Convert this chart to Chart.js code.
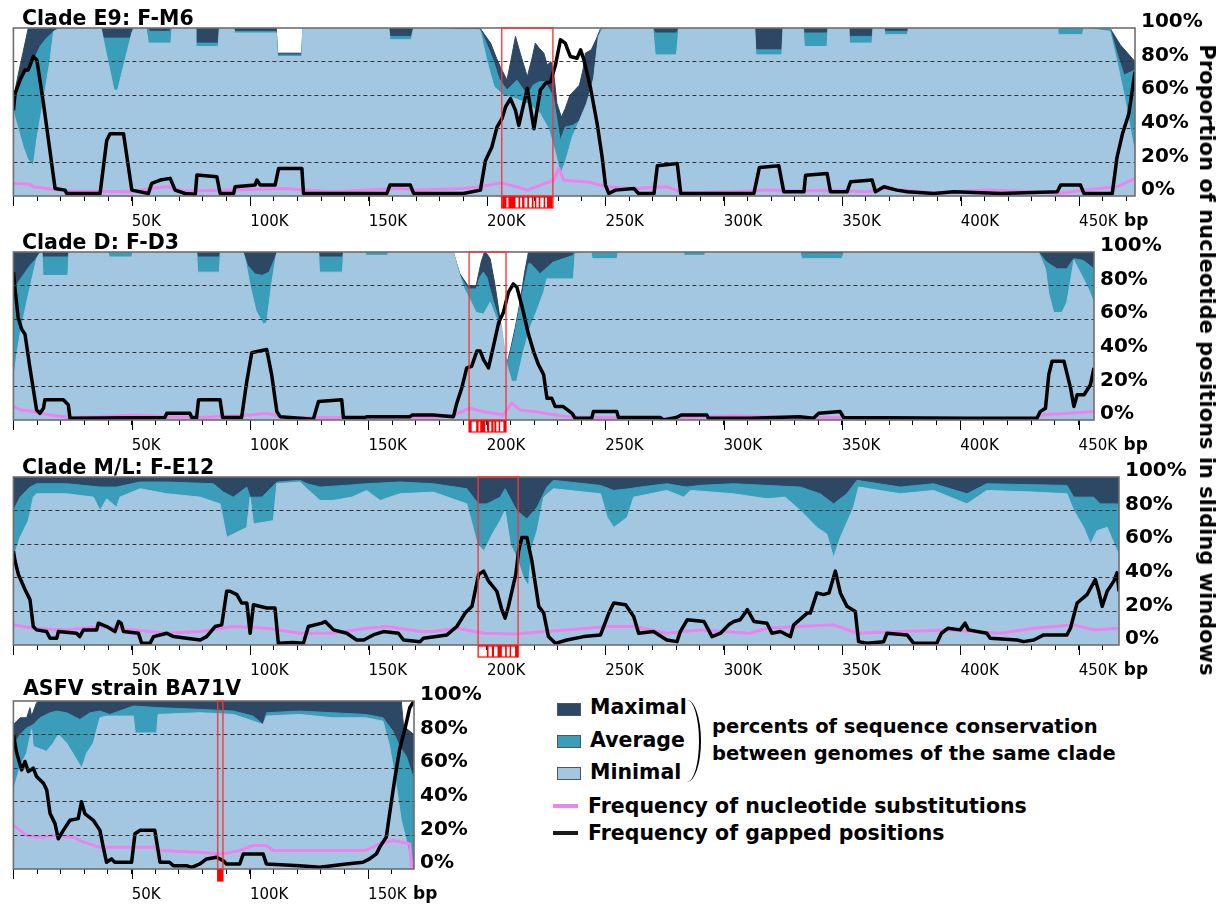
<!DOCTYPE html>
<html>
<head>
<meta charset="utf-8">
<script src="https://cdn.jsdelivr.net/npm/chart.js@4.4.1/dist/chart.umd.min.js"></script>
<style>
  body { margin: 0; width: 1220px; height: 905px; background: #fff; position: relative; overflow: hidden;
         font-family: "DejaVu Sans", sans-serif; font-weight: bold; color: #000; }
  canvas { position: absolute; left: 0; }
  .t { position: absolute; font-size: 20.5px; line-height: 20px; white-space: nowrap; z-index: 2; }
  .s { font-size: 19.5px; }
  .box { position: absolute; left: 557px; width: 22px; height: 11px; border: 1px solid #555; z-index: 2; }
  .ln { position: absolute; left: 553px; width: 25px; height: 4px; z-index: 2; }
  #paren { position: absolute; left: 687px; top: 700px; width: 12px; height: 82px; z-index: 2;
           border-right: 2.5px solid #000; border-radius: 0 100% 100% 0 / 0 50% 50% 0; }
  #ytitle { position: absolute; left: 1207px; top: 360px; font-size: 21px; white-space: nowrap; z-index: 2;
            transform: translate(-50%, -50%) rotate(90deg); }
</style>
</head>
<body>
<canvas id="p1" width="1220" height="232" style="top:0px"></canvas>
<canvas id="p2" width="1220" height="232" style="top:224px"></canvas>
<canvas id="p3" width="1220" height="232" style="top:449px"></canvas>
<canvas id="p4" width="500" height="232" style="top:673px"></canvas>

<div class="t" style="left:22px;top:8px">Clade E9: F-M6</div>
<div class="t" style="left:22px;top:232px">Clade D: F-D3</div>
<div class="t" style="left:22px;top:457px">Clade M/L: F-E12</div>
<div class="t" style="left:23px;top:678px">ASFV strain BA71V</div>

<div class="box" style="top:703px;background:#2c4864"></div>
<div class="box" style="top:735px;background:#3a9ebb"></div>
<div class="box" style="top:767px;background:#a3c7e1"></div>
<div class="t" style="left:590px;top:697px">Maximal</div>
<div class="t" style="left:590px;top:730px">Average</div>
<div class="t" style="left:590px;top:762px">Minimal</div>
<div id="paren"></div>
<div class="t s" style="left:712px;top:717px">percents of sequence conservation</div>
<div class="t s" style="left:712px;top:744px">between genomes of the same clade</div>
<div class="ln" style="top:804px;background:#ee82ee"></div>
<div class="ln" style="top:831px;background:#1a1a1a"></div>
<div class="t" style="left:588px;top:796px">Frequency of nucleotide substitutions</div>
<div class="t" style="left:588px;top:823px">Frequency of gapped positions</div>
<div id="ytitle">Proportion of nucleotide positions in sliding windows</div>

<script>
// positions in kbp, values in percent

// Clade E9: F-M6
const e9Len = 473.6;
const e9Max = [[0,58],[2,72],[4,85],[6.3,100],[111,100],[111.5,85],[121.8,85],[122.2,100],[197,100],[199,96],[201.5,91],[204,82],[205.6,77],[208.4,69],[210,80],[212,95],[214,85],[217,71],[219,82],[220.4,91],[222,88],[224,85],[225.4,78],[227,80],[228,75],[229.5,55],[231.4,47],[233,52],[235,60],[237,63],[239,66],[240.5,75],[241.5,85],[244,87],[246,93],[248,100],[463,100],[467.4,90],[473.6,80]];
const e9Avg = [[0,55],[2,65],[4,72],[6.5,76],[9,82],[11.2,89],[14,94],[17,98],[19,100],[37,100],[38,94],[49.5,94],[50.5,100],[57,100],[57.5,98],[66,98],[66.5,100],[76.8,100],[77,91],[86.5,91],[87,100],[93,100],[93.5,98],[111,98],[111.5,84],[121.8,84],[122.2,100],[158.5,100],[159,95],[168,95],[169,100],[197.5,98],[200,90],[202.8,80],[205,70],[208.4,63],[212.6,69],[217,60],[219.5,66],[222,68],[224.5,68],[228,59],[230.9,33],[233,41],[236,42],[239.5,45],[242,52],[244.3,59],[246.5,87],[248,100],[270,100],[271,97],[280,97],[281,100],[313,100],[313.5,87],[324.5,87],[325,100],[333.5,100],[334,97],[343.6,97],[344,100],[352.8,100],[353,95],[362.6,95],[363,100],[367.6,100],[368,98],[377.5,98],[378,100],[463,100],[466,85],[469,72],[473.6,75]];
const e9Min = [[0,50],[2,40],[4,30],[6,22],[8.4,18],[10,35],[12.7,57],[15.5,81],[17,98],[20,100],[37,100],[38,93],[42.5,63],[44,63],[50,97],[51,100],[56,100],[57,91],[66.5,91],[67,100],[76.8,100],[77,89],[86.5,89],[87,100],[93,100],[93.5,97],[111,97],[111.5,83],[121.8,83],[122.2,100],[158.5,100],[159,93],[168,93],[169,100],[197,99],[200,80],[203,65],[207,60],[212,58],[217,55],[222,50],[226,40],[229,25],[231,13],[233,20],[236,35],[239,45],[242,55],[245,70],[247,95],[249,100],[270,100],[271,84],[280,84],[281,100],[313,100],[313.5,84],[324.5,84],[325,100],[333.5,100],[334,89],[343.6,89],[344,100],[352.8,100],[353,91],[362.6,91],[363,100],[367.6,100],[368,96],[377.5,96],[378,100],[440.8,100],[441,96],[451.4,96],[452,100],[463,98],[466,80],[469,60],[471,45],[473.6,25]];
const e9Sub = [[0,7.4],[7,7],[8.5,5.5],[22.5,3],[50,2.5],[57.7,4.5],[64.8,5.5],[72,3],[93,3.5],[114,4.5],[135,2.5],[156,4],[163,4.5],[170.4,3.5],[190.1,4.5],[197.2,5.5],[205.6,7.8],[212.6,5.5],[217,3.5],[222.5,6.5],[228.2,9.4],[230.3,16.4],[232.4,9.4],[242.3,8.4],[250.7,5.5],[262,4.5],[276,5.5],[283,2],[304,2.5],[318,3.5],[332,3],[346.4,3.5],[360.5,2.5],[367.6,4.5],[388.6,2],[411,3.5],[431,2.5],[441,1.5],[452,3.5],[466,5.5],[473.6,10.5]];
const e9Gap = [[0,51],[0.7,61],[2.8,69],[4.9,75],[6.3,75],[8.4,83],[9.9,81],[12.7,55],[17.6,4.5],[21.8,3.5],[22.5,1.5],[36.6,1.5],[39.4,33],[40.8,37],[46.5,37],[50,3.5],[57,1.5],[58.4,7.5],[62,9.5],[66.2,10.5],[68.3,3.5],[72.5,1.5],[76.8,1],[77.5,12.5],[85.9,11.5],[87.3,1.5],[93,1.5],[93.6,5.5],[102,6.5],[102.8,9.5],[104.2,6.5],[110.5,6.5],[112,16.4],[121.8,16.4],[122.5,1.5],[157.7,1.5],[159,6.5],[167.6,6.5],[169,1.5],[190,1.5],[197.2,3.5],[199.3,21],[202,29],[204.2,41],[206.3,46],[207.8,53],[209.9,58],[212,51],[213.4,42],[217,64],[219.8,40],[222.5,63],[224.6,67],[226.8,68],[228.9,78],[231,93],[233,91],[235.2,83],[238,82],[239.5,87],[240.9,81],[243.6,65],[246.5,43],[248.6,23],[250,6.5],[251.4,1.5],[254.2,3.5],[262,4.5],[264,1.5],[270.5,1.5],[271.9,18],[280.3,19.4],[281.8,1.5],[312.7,1.5],[315,17],[323.2,18],[325.3,2.5],[333.8,2.5],[334.5,12.4],[343.6,13.4],[345,2.5],[352,2.5],[353.5,8.5],[362.6,9.5],[364,2.5],[367.6,5.5],[373,3.5],[377.5,2.5],[388.6,1.5],[397.2,2.5],[417,1.5],[440.8,2.5],[442.2,6.5],[450.6,6.5],[452,1.5],[464,1.5],[466,23],[468.3,37],[471,49],[473.6,74]];
const e9Hl = [206.2, 227.8];
const e9Genes = [[206.4,208.2],[209,212],[213.3,214],[214.8,215.8],[217,217.7],[218.9,219.6],[220.2,220.6],[221.8,222.5],[223.9,224.3],[225.3,227.6]];

// Clade D: F-D3
const d2Len = 456.5;
const d2Max = [[0,100],[185.8,100],[188.6,87],[192,80],[195.5,80],[197.6,94],[199,100],[200,99],[201.4,96],[203.5,80],[205.6,60],[207,45],[208.4,33],[210,42],[212,55],[214,70],[216,88],[217.6,100],[456.5,100]];
const d2Avg = [[0,78],[2,82],[4,86],[7,92],[9,95],[11,99],[12,100],[12.5,97],[23,97],[23.5,100],[65,100],[65.5,98],[74.5,98],[75,100],[77.4,100],[77.8,97],[87,97],[87.5,100],[97,100],[99,92],[102,87],[105,86],[108,88],[111,98],[111.5,100],[128.9,100],[129.3,97],[139,97],[139.5,100],[185.8,100],[188.6,86],[192,78],[195.5,78],[197,85],[198.5,88],[200,85],[202.5,72],[205,60],[207,45],[208.4,33],[210,40],[212,53],[214,68],[216,82],[217.6,93],[218.5,93],[222.5,87],[228,94],[236.5,98],[237,100],[332.4,100],[333,99],[350,99],[351,100],[433,100],[436.5,94],[440.8,90],[445,90],[447.9,96],[452,95],[456.5,90]];
const d2Min = [[0,23],[1.5,40],[2.8,51],[5.6,70],[8,85],[9.8,96],[11,99],[12,100],[12.5,86],[23,86],[23.5,100],[40,100],[40.5,97],[50,97],[50.5,100],[77.4,100],[77.8,88],[87,88],[87.5,100],[97,100],[98,95],[100,80],[102.5,65],[105.6,57],[107,58],[109,80],[111,98],[111.5,100],[128.9,100],[129.3,88],[139,88],[139.5,100],[148.6,100],[149,98],[158,98],[158.5,100],[185.8,100],[188.6,86],[190.5,78],[192,74],[195.5,64],[198.6,63],[201.4,70],[204.2,60],[206.3,55],[208.4,33],[210.5,23],[212.6,23],[215.5,41],[218.3,55],[221.1,65],[224,76],[225.4,84],[236.6,84],[237.3,99],[244,100],[244.5,96],[255,96],[255.5,100],[283,100],[283.5,98],[292,98],[292.5,100],[332.4,100],[333,96],[350,96],[351,100],[433,100],[436,90],[437.4,75],[439.5,64],[443,64],[445,70],[446.5,82],[448,95],[450.6,88],[453.5,80],[456.5,70]];
const d2Sub = [[0,8],[3,6],[8.4,5],[15.5,3],[23.9,1.5],[36.6,2],[50.7,3],[64.8,2],[78.8,1.5],[100,3],[107,4],[114,1.5],[163,1.5],[177.4,1.5],[185.9,3],[192.9,7],[198.6,5],[207,3],[210.5,10],[214,6],[219.7,5],[233.8,2],[247.9,1.5],[276,1],[304,2.5],[332,1.5],[402.8,1],[431,1],[433.8,3],[445,4],[456.5,5]];
const d2Gap = [[0,88],[0.7,78],[2,61],[3.5,54],[4.9,51],[7,31],[9.8,6],[11.2,4],[12.7,7],[13.3,12],[21.1,12],[23.2,9],[23.9,1],[64,1.5],[64.8,4],[74.6,4],[75.3,1.5],[77.4,1.5],[78.2,12],[87.3,12],[88.4,1.5],[96.4,1.5],[98.6,23],[100.7,40],[103.5,41],[107,42],[109.1,27],[111.3,5],[112.7,2],[126.7,0.5],[128.9,11],[138.7,12],[139.4,1.5],[148.6,1.5],[149.5,2],[157.7,2],[167.6,2],[168.5,3],[177.4,3],[185.9,2],[187.3,10],[189.4,19],[191.5,31],[193.6,32],[195.8,41],[197.2,41],[198.6,36],[200.7,31],[202.8,44],[205,58],[207,64],[209.1,76],[211.2,81],[212.7,79],[214.8,68],[217.6,51],[219.7,41],[221.8,33],[224,27],[225.4,13],[227.4,13],[228.9,8],[232.3,8],[236,4],[237.3,1],[244.3,1],[245,5],[254.9,5],[255.6,1.5],[273.2,1.5],[274.6,0],[280,1.5],[282.3,3],[292.9,3],[293.6,1],[311.2,1],[332,2],[338,1],[340.2,4],[349.3,5],[350.7,1.5],[402.8,1],[432.4,1],[433.8,5],[436,7],[437.4,27],[438.8,35],[443.8,35],[444.5,31],[446.6,19],[448,8],[449.4,15],[452.3,15],[455,21],[456.5,31]];
const d2Hl = [192.5, 208.1];
const d2Genes = [[192.5,193.6],[195.5,196.5],[197.2,199.3],[200.2,201],[201.9,202.8],[203.2,204],[205,205.6],[207,208.1]];

// Clade M/L: F-E12
const ml3Len = 467;
const ml3Max = [[0,100],[467,100]];
const ml3Avg = [[0,80],[2.8,88],[7,94],[9.8,96],[22.5,96],[36.6,94],[43.6,94],[53.5,97],[64.8,97],[84.5,96],[88.7,91],[92.9,88],[98.6,94],[100,88],[105,88],[111.3,97],[121,98],[124,96],[129.5,94],[140,95],[149.2,96],[163.3,97],[177.4,96],[191.5,93],[196.4,84],[200,84],[205.6,88],[207.7,93],[212.6,80],[216.9,75],[221.2,82],[225.3,94],[228.1,98],[247.9,95],[253.6,92],[260,93],[264.7,94],[276,96],[284.5,94],[290,95],[304.2,96],[318.3,95],[332.4,94],[340.8,90],[346.4,84],[352,90],[356.3,98],[374.6,94],[388.7,96],[402.8,90],[411.2,96],[445,95],[447.9,88],[456.3,88],[459.1,84],[467,84]];
const ml3Min = [[0,52],[2.8,64],[6.3,74],[8.4,88],[9.8,90],[22.5,90],[33.8,88],[36.6,80],[39.4,87],[43.6,82],[45,88],[53.5,93],[64.8,90],[78.9,88],[87.3,84],[90.1,64],[92.9,66],[98.6,70],[100,88],[101.4,72],[109.8,74],[111.3,96],[121,97],[124,93],[129.5,86],[135,86],[143,88],[149.2,92],[154.9,86],[163.3,90],[177.4,91],[191.5,84],[196,60],[198.8,56],[202.3,66],[205.6,74],[207.7,80],[209.9,60],[212.6,52],[215.5,40],[217.6,35],[219,58],[221.2,68],[224,88],[228.1,93],[248,90],[250.8,76],[253.6,70],[259.3,76],[262,88],[276,92],[283.1,88],[286,92],[304.2,90],[318.3,87],[326,88],[332.4,80],[339.4,70],[343.6,66],[346.4,52],[349.3,64],[354.9,82],[357,94],[374.6,90],[388.7,92],[402.8,84],[411.2,92],[431,91],[445,90],[447.9,80],[452.1,70],[455,60],[457.7,68],[462,70],[466.2,56],[467,55]];
const ml3Sub = [[0,12],[8.5,10],[22.5,9],[36.6,11],[50.7,9],[64.8,7],[78.9,8],[93,11],[107,10],[121,7],[135,7],[149,10],[157.7,11],[171.8,8],[177.4,8],[187.3,10],[198.7,7],[212.6,6.5],[224,8],[233.8,9],[250.7,11],[262,11],[276,7],[290,9],[311,7],[318.3,10],[332,11],[346.4,12],[356.3,7],[374.6,8],[395.5,9],[416.9,7],[431,10],[447.9,12],[456.3,9],[467,10]];
const ml3Gap = [[0,56],[0.7,50],[2.1,42],[4.9,33],[7,27],[8.4,11],[9.8,9],[14,8],[15.5,4],[18.3,4],[19,8],[26.7,7],[28,5],[29.6,9],[35.2,9],[35.9,13],[39.4,11],[42.9,8],[44.4,14],[45.5,13],[46.5,8],[52.8,7],[54.2,1],[57.7,1],[59.2,5],[64.8,7],[67.6,5],[73.2,4],[78.9,3],[81.6,5],[85.2,11],[88,12],[90.1,32],[91.5,32],[94.4,30],[96.4,25],[98.6,25],[100,7],[101.4,24],[107,22],[110.5,22],[111.9,1],[118,1.5],[122.5,1],[124.6,11],[130.3,13],[131.7,14],[133.8,11],[135.2,9],[140.8,7],[145,3],[148,3],[152,6],[156.3,8],[162.6,7],[164.8,3],[171.8,2],[173.2,4],[183.1,6],[187.3,11],[190.8,19],[193.7,23],[196.5,42],[198.6,44],[200.7,38],[204.2,32],[206.3,21],[207.7,16],[209.1,23],[212.2,42],[213.4,56],[214.8,64],[216.9,64],[219,50],[221.9,23],[224,19],[226,5],[228.9,1],[233.8,3],[240.9,5],[248,6],[251.5,19],[253.6,25],[258.6,24],[262,17],[264.1,7],[270.4,8],[276,3],[280.3,2],[281.7,8],[284.6,15],[291.7,14],[295.1,5],[298.7,7],[302.1,12],[304.3,14],[307,15],[310,21],[312.8,14],[318.3,13],[320.4,7],[324,8],[328.2,5],[329.6,12],[335.3,19],[336.6,19],[339.4,31],[342.2,30],[344.5,31],[347.2,44],[349.3,31],[352.1,23],[355.6,20],[357,2],[360.5,1],[367.6,2],[369,7],[377.5,6],[380.3,1],[390,1],[392,7],[394.8,10],[399.9,9],[402,13],[403.4,9],[411.2,7],[412.6,4],[423.9,3],[426.7,2],[431,3],[435.2,6],[445,6],[446.5,10],[449.3,25],[453.5,30],[457,39],[458.4,32],[459.9,23],[462,32],[464.8,38],[466.2,43],[467,32]];
const ml3Hl = [196.3, 213.2];
const ml3Genes = [[200,200.7],[202.1,203],[204.5,206.3],[207.7,208.4],[209.6,210.1],[211.9,213.2]];

// ASFV strain BA71V
const b4Len = 169.4;
const b4Max = [[0,86],[1.4,88],[2.8,90],[5.6,90],[7,96],[7.7,91],[9.8,99],[11,100],[164,100],[165,85],[169.4,80]];
const b4Avg = [[0,73],[2.8,80],[5.6,84],[8.4,86],[11.2,90],[15.5,93],[18.3,94],[22.5,93],[28.1,89],[32.4,93],[36.6,94],[40.8,92],[50.7,97],[62,96],[78.9,95],[93,94],[101.4,91],[105.6,86],[107,93],[121,94],[135,93],[149,92],[156.3,90],[160.5,82],[163.3,73],[166.2,67],[169.4,53]];
const b4Min = [[0,47],[2.8,61],[5.6,69],[7.7,83],[8.4,73],[14,70],[16.9,75],[19,80],[22.5,75],[28.9,60],[31,69],[33.8,75],[36.6,90],[39.4,91],[50.7,91],[51.5,81],[60.6,81],[61.2,92],[78.9,93],[93,92],[101.4,88],[105.6,86],[107,91],[121,92],[135,90],[149,90],[156.3,88],[159.1,73],[162,49],[164,29],[166.2,17],[168.3,1],[169.4,0]];
const b4Sub = [[0,26],[2.8,23],[5.6,20],[11.2,19],[18.3,20],[25.4,19],[29.6,16],[36.6,13],[59.2,13],[62,11],[78.9,10],[88.7,9],[95.7,11],[101.4,14],[107,14],[109.8,11],[149,11],[154.9,15],[160.5,17],[167.6,15],[168.5,0],[169.4,0]];
const b4Gap = [[0,80],[1.4,69],[3.5,59],[4.9,64],[6.3,58],[8.4,60],[9.8,55],[12.7,51],[14.1,47],[15.5,33],[17.6,27],[19,18],[21.1,23],[23.9,29],[27.4,30],[28.8,40],[30.2,33],[33.8,29],[36.6,23],[38,13],[39.4,4],[41.5,6],[42.9,4],[50,4],[51.4,21],[53.5,23],[59.8,23],[62,4],[66,4],[67.6,2],[73.2,2],[75.4,1],[78.9,3],[81.7,6],[85.9,7],[88.7,5],[90.1,3],[95.7,3],[97.2,9],[105.6,9],[107,3],[121,2],[129.5,1],[140.8,3],[147.8,4],[150.6,6],[153.5,9],[154.9,13],[157.7,19],[159.1,33],[161.2,53],[163.3,71],[165.5,83],[167.6,96],[169.4,100]];
const b4Hl = [86.4, 88.6];
const b4Genes = [[86.4,88.6]];

const yTicks = [0, 20, 40, 60, 80, 100];

const C_MAX = "#2c4864", C_AVG = "#3a9ebb", C_MIN = "#a3c7e1", C_SUB = "#ee82ee", C_GAP = "#000000";
const FONT = "'DejaVu Sans', sans-serif";

const pts = (arr) => arr.map(([x, y]) => ({ x, y }));

function deco(hl, genes, bpAt) {
  return {
    id: "deco",
    afterDraw(chart) {
      const { ctx, chartArea: a, scales: { x } } = chart;
      ctx.save();
      // longer ticks at every 50K
      ctx.strokeStyle = "#000";
      ctx.lineWidth = 1;
      for (let v = 0; v <= x.max; v += 50) {
        const px = Math.round(x.getPixelForValue(v)) + 0.5;
        ctx.beginPath();
        ctx.moveTo(px, a.bottom);
        ctx.lineTo(px, a.bottom + 10);
        ctx.stroke();
      }
      // frame
      ctx.strokeStyle = "#6e6e6e";
      ctx.lineWidth = 1.6;
      ctx.strokeRect(a.left, a.top, a.width, a.height);
      // highlighted region
      const x0 = x.getPixelForValue(hl[0]), x1 = x.getPixelForValue(hl[1]);
      ctx.strokeStyle = "rgba(255,50,50,0.9)";
      ctx.lineWidth = 1.5;
      ctx.strokeRect(x0, a.top, x1 - x0, a.height);
      ctx.fillStyle = "#ff0000";
      genes.forEach(([g0, g1]) => {
        const p0 = x.getPixelForValue(g0), p1 = x.getPixelForValue(g1);
        ctx.fillRect(p0, a.bottom + 1, Math.max(p1 - p0, 1.5), 11);
      });
      ctx.strokeStyle = "#ff0000";
      ctx.lineWidth = 1.2;
      ctx.strokeRect(x0, a.bottom + 1, x1 - x0, 11);
      // bp unit after the last label
      ctx.fillStyle = "#000";
      ctx.font = "bold 17px " + FONT;
      ctx.textBaseline = "alphabetic";
      ctx.fillText("bp", x.getPixelForValue(bpAt) + 45, a.bottom + 30);
      ctx.restore();
    },
  };
}

function area(label, data, color, order) {
  return { label, data: pts(data), borderColor: color, backgroundColor: color, borderWidth: 1,
           fill: "origin", order, pointRadius: 0, tension: 0 };
}

function line(label, data, color, width, order) {
  return { label, data: pts(data), borderColor: color, borderWidth: width, fill: false,
           order, pointRadius: 0, tension: 0, borderJoinStyle: "round" };
}

function makePanel(id, len, mx, av, mn, sub, gap, hl, genes, bpAt, padRight) {
  new Chart(document.getElementById(id), {
    type: "line",
    data: {
      datasets: [
        line("Frequency of gapped positions", gap, C_GAP, 3.5, 0),
        line("Frequency of nucleotide substitutions", sub, C_SUB, 3, 1),
        area("Minimal", mn, C_MIN, 2),
        area("Average", av, C_AVG, 3),
        area("Maximal", mx, C_MAX, 4),
      ],
    },
    options: {
      responsive: false,
      animation: false,
      layout: { padding: { left: 13.4, top: 28, right: padRight, bottom: 0 } },
      scales: {
        x: {
          type: "linear", min: 0, max: len,
          afterFit: (s) => { s.height = 36; },
          ticks: {
            stepSize: 10, includeBounds: false, autoSkip: false, maxRotation: 0,
            align: "start", padding: 12, color: "#000",
            font: { family: FONT, size: 15 },
            callback: (v) => (v > 0 && v % 50 === 0 ? v + "K" : ""),
          },
          grid: { drawOnChartArea: false, drawTicks: true, tickLength: 5, color: "#000", lineWidth: 1 },
          border: { display: false },
        },
        y: {
          position: "right", min: 0, max: 100,
          afterFit: (s) => { s.width = 85; },
          afterBuildTicks: (s) => { s.ticks = yTicks.map((v) => ({ value: v })); },
          ticks: {
            padding: 6, labelOffset: -6, color: "#000",
            font: { family: FONT, size: 20, weight: "bold" },
            callback: (v) => v + "%",
          },
          grid: {
            drawTicks: false, z: 1, lineWidth: 1,
            color: (c) => (c.tick && c.tick.value > 0 && c.tick.value < 100 ? "#333" : "rgba(0,0,0,0)"),
          },
          border: { display: false, dash: [4, 3] },
        },
      },
      plugins: { legend: { display: false }, tooltip: { enabled: false } },
    },
    plugins: [deco(hl, genes, bpAt)],
  });
}

makePanel("p1", e9Len, e9Max, e9Avg, e9Min, e9Sub, e9Gap, e9Hl, e9Genes, 450, 0);
makePanel("p2", d2Len, d2Max, d2Avg, d2Min, d2Sub, d2Gap, d2Hl, d2Genes, 450, 41);
makePanel("p3", ml3Len, ml3Max, ml3Avg, ml3Min, ml3Sub, ml3Gap, ml3Hl, ml3Genes, 450, 16);
makePanel("p4", b4Len, b4Max, b4Avg, b4Min, b4Sub, b4Gap, b4Hl, b4Genes, 150, 1);
</script>
</body>
</html>
